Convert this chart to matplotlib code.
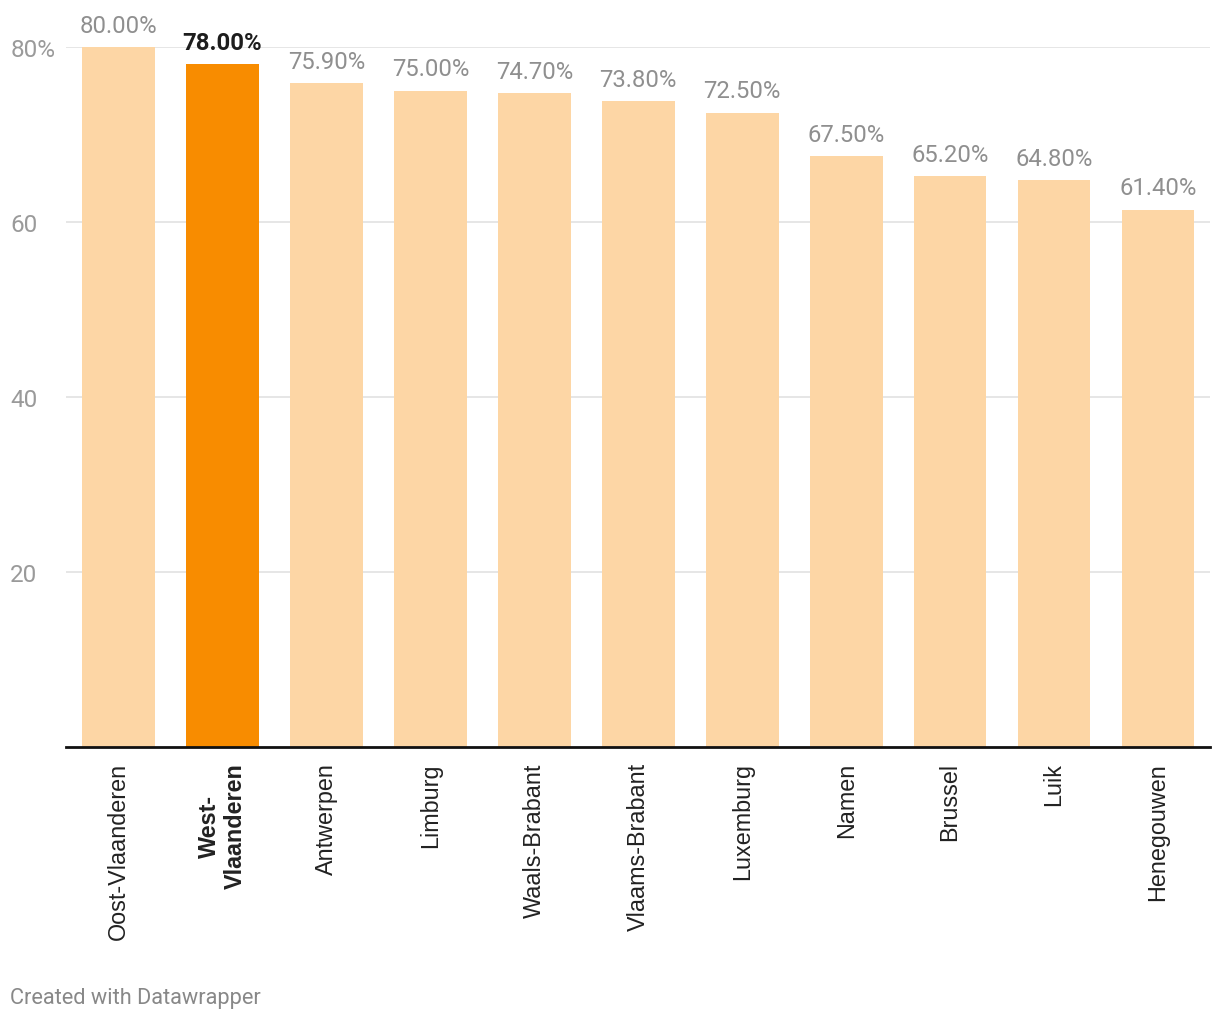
import matplotlib.pyplot as plt
from matplotlib.ticker import FixedLocator

provinces = ['Oost-Vlaanderen', 'West-\nVlaanderen', 'Antwerpen', 'Limburg', 'Waals-Brabant',
             'Vlaams-Brabant', 'Luxemburg', 'Namen', 'Brussel', 'Luik', 'Henegouwen']
values = [80.0, 78.0, 75.9, 75.0, 74.7, 73.8, 72.5, 67.5, 65.2, 64.8, 61.4]
highlight = 1
yticks = [20, 40, 60, 80]
ytick_labels = ['20', '40', '60', '80%']

light = '#fdd6a5'
orange = '#f88c00'

fig = plt.figure(figsize=(12.2, 10.2), dpi=100)
ax = fig.add_axes([0.0545, 0.2667, 0.9373, 0.6863])

x = list(range(len(values)))
colors = [orange if i == highlight else light for i in x]
ax.bar(x, values, width=0.70, color=colors, zorder=2)

ax.set_xlim(-0.5, len(values) - 0.5)
ax.set_ylim(0, 80)

# value labels above the bars
for i, v in enumerate(values):
    bold = i == highlight
    ax.annotate('%.2f%%' % v, (i, v), xytext=(0, 11), textcoords='offset points',
                ha='center', va='baseline', fontsize=17.2, family='Roboto',
                color='#1d1d1d' if bold else '#8f8f8f',
                fontweight='bold' if bold else 'normal', clip_on=False)

ax.yaxis.set_major_locator(FixedLocator(yticks))
ax.set_yticklabels(ytick_labels)
ax.yaxis.grid(True, color='#e2e2e2', linewidth=1.2, zorder=0)
ax.set_axisbelow(True)
ax.tick_params(axis='y', length=0, pad=40.5, labelsize=17.5, labelcolor='#9a9a9a')
for lab in ax.get_yticklabels():
    lab.set_horizontalalignment('left')
    lab.set_family('Roboto')
    lab.set_verticalalignment('center_baseline')

ax.set_xticks(x)
ax.set_xticklabels(provinces, rotation=90, ha='center', va='top',
                   family='Liberation Sans', fontsize=16.8, color='#222222',
                   multialignment='center')
ax.get_xticklabels()[highlight].set_fontweight('bold')
ax.tick_params(axis='x', length=0, pad=11)

for s in ['top', 'right', 'left']:
    ax.spines[s].set_visible(False)
ax.spines['bottom'].set_linewidth(2)
ax.spines['bottom'].set_color('#111111')
ax.spines['bottom'].set_zorder(3)

fig.text(0.0082, 0.0157, 'Created with Datawrapper', fontsize=15.7, family='Roboto',
         color='#888888', ha='left', va='baseline')

fig.savefig('out.png', dpi=100)
